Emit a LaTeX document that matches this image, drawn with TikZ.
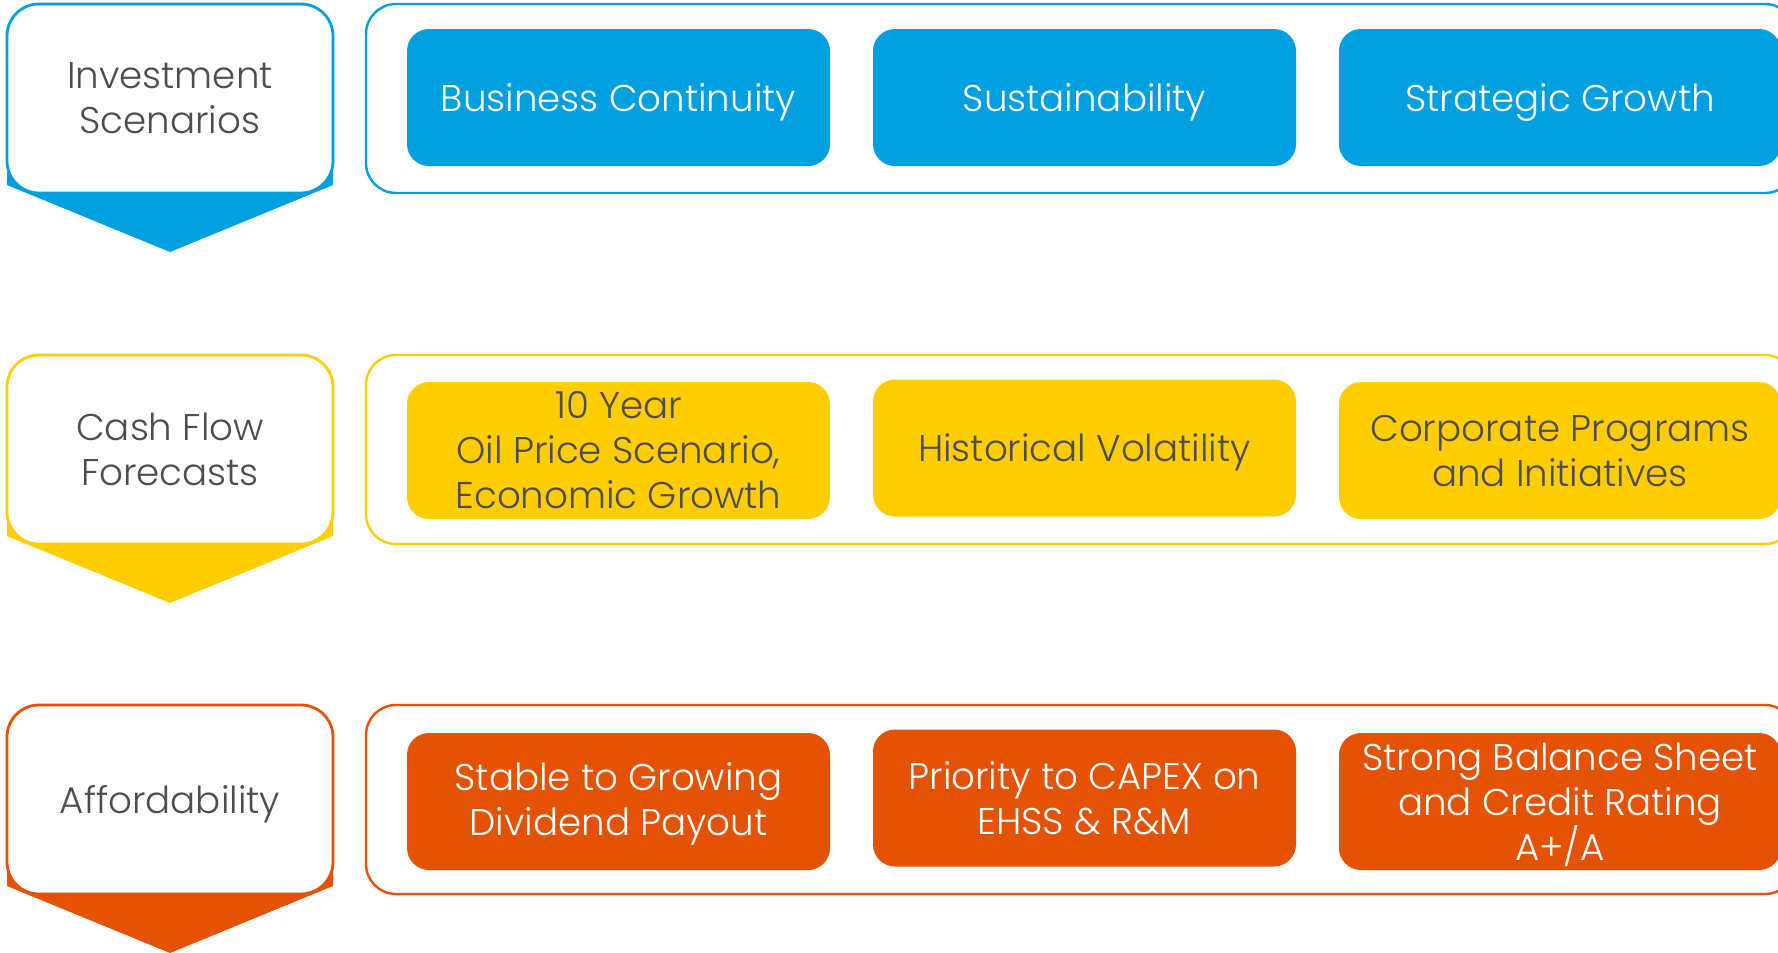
\documentclass[tikz,border=0pt]{standalone}
\usepackage{fontspec}
\setmainfont{Poppins}[UprightFont={* Light}]
\definecolor{cblue}{RGB}{0,159,223}
\definecolor{cyel}{RGB}{255,205,0}
\definecolor{corg}{RGB}{227,82,5}
\definecolor{ctxt}{RGB}{77,77,77}
\tikzset{
  lbox/.style={draw=#1, fill=white, line width=1.4pt, rounded corners=16pt,
    minimum width=163pt, minimum height=94.5pt, inner sep=0pt},
  cont/.style={draw=#1, line width=1.2pt, rounded corners=15pt,
    minimum width=714.5pt, minimum height=94.5pt, inner sep=0pt},
  ibox/.style={fill=#1, rounded corners=11pt, minimum width=211.5pt,
    minimum height=68.5pt, inner sep=0pt},
  wideibox/.style={ibox=#1, minimum width=221pt},
  lab/.style={align=center, inner sep=0pt, text=#1,
    font=\fontsize{18.6}{22.5}\selectfont},
  chev/.style={fill=#1, draw=none}
}
\begin{document}
\begin{tikzpicture}[x=0.5pt,y=-0.5pt]
\useasboundingbox (0,0) rectangle (1778,953);
\clip (0,0) rectangle (1778,953);
% ---------- Row 1 ----------
\fill[chev=cblue] (7,104) -- (333,104) -- (333,185) -- (170,252) -- (7,185) -- cycle;
\node[lbox=cblue] (l1) at (170,98.5) {};
\node[cont=cblue] (c1) at (1080.5,98.5) {};
\node[ibox=cblue] (a1) at (618.5,97.5) {};
\node[ibox=cblue] (a2) at (1084.5,97.5) {};
\node[wideibox=cblue] (a3) at (1560,97.5) {};
\node[lab=ctxt] (l1t) at ([yshift=0pt]l1.center) {Investment\\Scenarios};
\node[lab=white] (a1t) at ([yshift=-2.5pt]a1.center) {Business Continuity};
\node[lab=white] (a2t) at ([yshift=-2.5pt]a2.center) {Sustainability};
\node[lab=white] (a3t) at ([yshift=-2.5pt]a3.center) {Strategic Growth};
% ---------- Row 2 ----------
\fill[chev=cyel] (7,455) -- (333,455) -- (333,536) -- (170,603) -- (7,536) -- cycle;
\node[lbox=cyel] (l2) at (170,449.5) {};
\node[cont=cyel] (c2) at (1080.5,449.5) {};
\node[ibox=cyel] (b1) at (618.5,450.5) {};
\node[ibox=cyel] (b2) at (1084.5,448) {};
\node[wideibox=cyel] (b3) at (1560,450.5) {};
\node[lab=ctxt] (l2t) at ([yshift=0pt]l2.center) {Cash Flow\\Forecasts};
\node[lab=ctxt] (b1t) at ([yshift=0pt]b1.center) {10 Year\\Oil Price Scenario,\\Economic Growth};
\node[lab=ctxt] (b2t) at ([yshift=-2pt]b2.center) {Historical Volatility};
\node[lab=ctxt] (b3t) at ([yshift=0pt]b3.center) {Corporate Programs\\and Initiatives};
% ---------- Row 3 ----------
\fill[chev=corg] (7,805) -- (333,805) -- (333,886) -- (170,953) -- (7,886) -- cycle;
\node[lbox=corg] (l3) at (170,799.5) {};
\node[cont=corg] (c3) at (1080.5,799.5) {};
\node[ibox=corg] (d1) at (618.5,801.5) {};
\node[ibox=corg] (d2) at (1084.5,798) {};
\node[wideibox=corg] (d3) at (1560,801.5) {};
\node[lab=ctxt] (l3t) at ([yshift=-2.5pt]l3.center) {Affordability};
\node[lab=white] (d1t) at ([yshift=-1pt]d1.center) {Stable to Growing\\Dividend Payout};
\node[lab=white] (d2t) at ([yshift=0pt]d2.center) {Priority to CAPEX on\\EHSS \& R\&M};
\node[lab=white] (d3t) at ([yshift=-1.5pt]d3.center) {Strong Balance Sheet\\and Credit Rating\\A+/A};
\end{tikzpicture}
\end{document}
